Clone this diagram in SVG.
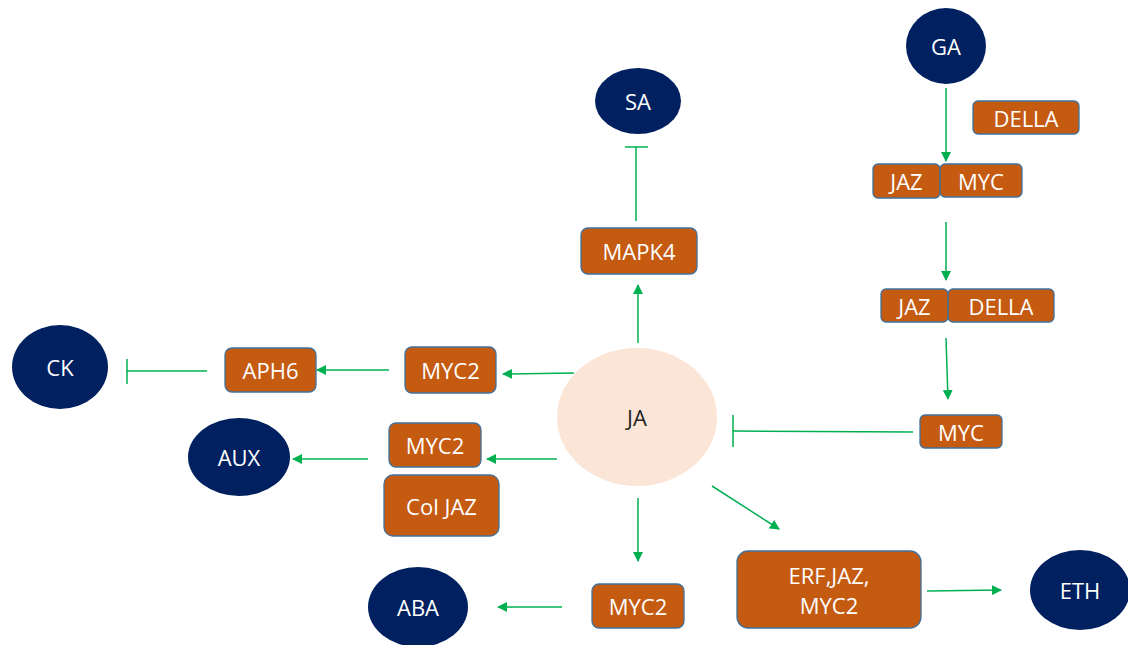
<svg xmlns="http://www.w3.org/2000/svg" width="1128" height="645" viewBox="0 0 1128 645">
<style>
.hub{fill:#002060}
.box{fill:#C55A11;stroke:#41719C;stroke-width:1.3}
.t{font-family:"Open Sans","Liberation Sans",sans-serif;font-size:22px;fill:#ffffff;text-anchor:middle;dominant-baseline:central}
.tj{fill:#222222}
.c{stroke:#00B050;stroke-width:1.5;fill:none}
.a{marker-end:url(#ah)}
</style>
<defs>
<marker id="ah" viewBox="0 0 10 10" refX="9" refY="5" markerWidth="10" markerHeight="10" markerUnits="userSpaceOnUse" orient="auto">
<path d="M0,0 L10,5 L0,10 z" fill="#00B050"/>
</marker>
</defs>
<rect width="1128" height="645" fill="#ffffff"/>
<g id="connectors">
<line class="c a" x1="946" y1="88" x2="946" y2="161"/>
<line class="c a" x1="946" y1="222" x2="946" y2="280"/>
<line class="c a" x1="946" y1="338" x2="948" y2="399"/>
<line class="c" x1="913" y1="432" x2="733" y2="431"/>
<line class="c" x1="733" y1="415" x2="733" y2="447"/>
<line class="c a" x1="638" y1="343" x2="638" y2="285"/>
<line class="c" x1="636" y1="221" x2="636" y2="147"/>
<line class="c" x1="625" y1="147" x2="648" y2="147"/>
<line class="c a" x1="574" y1="373" x2="503" y2="374"/>
<line class="c a" x1="389" y1="370" x2="317" y2="370"/>
<line class="c" x1="207" y1="371" x2="127" y2="371"/>
<line class="c" x1="127" y1="359" x2="127" y2="384"/>
<line class="c a" x1="557" y1="459" x2="487" y2="459"/>
<line class="c a" x1="368" y1="459" x2="293" y2="459"/>
<line class="c a" x1="638" y1="498" x2="638" y2="561"/>
<line class="c a" x1="562" y1="607" x2="498" y2="607"/>
<line class="c a" x1="712" y1="486" x2="779" y2="529"/>
<line class="c a" x1="927" y1="591" x2="1001" y2="590"/>
</g>
<g id="GA"><ellipse class="hub" cx="946" cy="46" rx="40" ry="38"/><text class="t" x="946" y="46">GA</text></g>
<g id="DELLA1"><rect class="box" x="973" y="101" width="106" height="33" rx="5"/><text class="t" x="1026" y="117.5">DELLA</text></g>
<g id="JAZ1"><rect class="box" x="873" y="164" width="67" height="34" rx="5"/><text class="t" x="906.5" y="181">JAZ</text></g>
<g id="MYC1"><rect class="box" x="940" y="164" width="82" height="33" rx="5"/><text class="t" x="981" y="180.5">MYC</text></g>
<g id="JAZ2"><rect class="box" x="881" y="289" width="67" height="33" rx="5"/><text class="t" x="914.5" y="305.5">JAZ</text></g>
<g id="DELLA2"><rect class="box" x="948" y="289" width="106" height="33" rx="5"/><text class="t" x="1001" y="305.5">DELLA</text></g>
<g id="MYC3"><rect class="box" x="920" y="415" width="82" height="33" rx="5"/><text class="t" x="961" y="431.5">MYC</text></g>
<g id="SA"><ellipse class="hub" cx="638" cy="101" rx="43" ry="33"/><text class="t" x="638" y="101">SA</text></g>
<g id="MAPK4"><rect class="box" x="581" y="228" width="116" height="46" rx="7"/><text class="t" x="639" y="251">MAPK4</text></g>
<g id="JA"><ellipse cx="637" cy="417" rx="80" ry="69" fill="#FBE5D6"/><text class="t tj" x="637" y="417">JA</text></g>
<g id="CK"><ellipse class="hub" cx="60" cy="367" rx="48" ry="42"/><text class="t" x="60" y="367">CK</text></g>
<g id="APH6"><rect class="box" x="225" y="348" width="91" height="44" rx="7"/><text class="t" x="270.5" y="370">APH6</text></g>
<g id="MYC2a"><rect class="box" x="405" y="347" width="91" height="46" rx="7"/><text class="t" x="450.5" y="370">MYC2</text></g>
<g id="AUX"><ellipse class="hub" cx="239" cy="457" rx="51" ry="39"/><text class="t" x="239" y="457">AUX</text></g>
<g id="MYC2b"><rect class="box" x="389" y="423" width="92" height="44" rx="7"/><text class="t" x="435" y="445">MYC2</text></g>
<g id="ColJAZ"><rect class="box" x="384" y="475" width="115" height="61" rx="9"/><text class="t" x="441.5" y="505.5">Col JAZ</text></g>
<g id="ABA"><ellipse class="hub" cx="418" cy="607" rx="50" ry="40"/><text class="t" x="418" y="607">ABA</text></g>
<g id="MYC2c"><rect class="box" x="592" y="584" width="92" height="44" rx="7"/><text class="t" x="638" y="606">MYC2</text></g>
<g id="ERF"><rect class="box" x="737" y="551" width="184" height="77" rx="11"/><text class="t" x="829" y="575">ERF,JAZ,</text><text class="t" x="829" y="605">MYC2</text></g>
<g id="ETH"><ellipse class="hub" cx="1080" cy="590" rx="50" ry="40"/><text class="t" x="1080" y="590">ETH</text></g>
</svg>
